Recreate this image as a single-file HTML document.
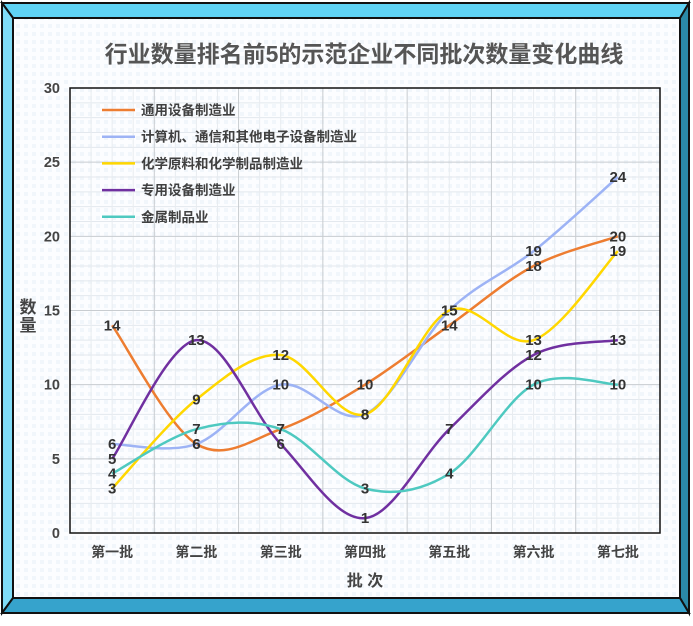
<!DOCTYPE html>
<html><head><meta charset="utf-8"><style>
html,body{margin:0;padding:0;background:#fff;}
svg{display:block;font-family:"Liberation Sans","Noto Sans CJK SC",sans-serif;}
</style></head><body>
<svg id="c" width="693" height="626" viewBox="0 0 693 626" xmlns="http://www.w3.org/2000/svg">
<defs>
<pattern id="bg" width="8" height="8" patternUnits="userSpaceOnUse">
<rect width="8" height="8" fill="#fcfdff"/>
<rect width="4" height="4" fill="#f1f6fb"/>
</pattern>
</defs>
<polygon points="2,3 689,3 680,18 13,18" fill="#5fd3f5" stroke="#111" stroke-width="2"/>
<polygon points="2,3 13,18 13,598 2,613" fill="#7fdcf7" stroke="#111" stroke-width="2"/>
<polygon points="689,3 689,613 680,598 680,18" fill="#2b8aa8" stroke="#111" stroke-width="2"/>
<polygon points="2,613 689,613 680,598 13,598" fill="#36a3cc" stroke="#111" stroke-width="2"/>
<rect x="13" y="18" width="667" height="580" fill="url(#bg)" stroke="#111" stroke-width="2"/>
<g id="grid"></g>
<rect x="70" y="88" width="590" height="445" fill="none" stroke="#111" stroke-width="1.5"/>
<text x="364" y="62" text-anchor="middle" font-size="23" font-weight="bold" fill="#555">行业数量排名前5的示范企业不同批次数量变化曲线</text>
<g id="ticks" font-size="14.5" font-weight="bold" fill="#444"></g>
<text x="365" y="586" text-anchor="middle" font-size="16" font-weight="bold" fill="#444">批 次</text>
<text x="28" y="313" text-anchor="middle" font-size="17" font-weight="bold" fill="#444">数</text>
<text x="28" y="331" text-anchor="middle" font-size="17" font-weight="bold" fill="#444">量</text>
<g id="series"></g>
<g id="legend" font-size="13.5" font-weight="bold" fill="#404040"></g>
<g id="labels" font-size="15" font-weight="bold" fill="#333"></g>
</svg>
<script>
const NS="http://www.w3.org/2000/svg";
function el(p,t,a,txt){const e=document.createElementNS(NS,t);for(const k in a)e.setAttribute(k,a[k]);if(txt!==undefined)e.textContent=txt;document.getElementById(p).appendChild(e);return e;}
const X0=70,X1=660,Y0=533,Y1=88,cw=(X1-X0)/7,py=(Y0-Y1)/30;
const xc=i=>X0+cw*(i+0.5), yv=v=>Y0-v*py;
for(let v=1;v<30;v++){ if(v%5) el("grid","line",{x1:X0,x2:X1,y1:yv(v),y2:yv(v),stroke:"#e3e8ee","stroke-width":1}); }
for(let i=0;i<7;i++){ for(let k=1;k<4;k++){const x=X0+cw*i+cw*k/4; el("grid","line",{x1:x,x2:x,y1:Y1,y2:Y0,stroke:"#e8ecf0","stroke-width":1});} }
for(let v=5;v<30;v+=5) el("grid","line",{x1:X0,x2:X1,y1:yv(v),y2:yv(v),stroke:"#c8ccd0","stroke-width":1});
for(let i=1;i<7;i++){const x=X0+cw*i; el("grid","line",{x1:x,x2:x,y1:Y1,y2:Y0,stroke:"#c8ccd0","stroke-width":1});}
for(let v=0;v<=30;v+=5) el("ticks","text",{x:60,y:yv(v)+5,"text-anchor":"end"},String(v));
const cats=["第一批","第二批","第三批","第四批","第五批","第六批","第七批"];
cats.forEach((c,i)=>el("ticks","text",{x:xc(i),y:557,"text-anchor":"middle","font-size":"14"},c));
const S=[
["通用设备制造业","#ed7d31",[14,6,7,10,14,18,20]],
["计算机、通信和其他电子设备制造业","#9db3f5",[6,6,10,8,15,19,24]],
["化学原料和化学制品制造业","#ffd700",[3,9,12,8,15,13,19]],
["专用设备制造业","#7030a0",[5,13,6,1,7,12,13]],
["金属制品业","#4ec9c0",[4,7,7,3,4,10,10]]];
S.forEach((s,j)=>{
 const p=s[2].map((v,i)=>[xc(i),yv(v)]);
 let d="M"+p[0][0]+","+p[0][1];
 for(let i=0;i<p.length-1;i++){
  const a=p[Math.max(i-1,0)],b=p[i],c=p[i+1],e=p[Math.min(i+2,p.length-1)];
  const t=1/6;
  d+=" C"+(b[0]+(c[0]-a[0])*t)+","+(b[1]+(c[1]-a[1])*t)+" "+(c[0]-(e[0]-b[0])*t)+","+(c[1]-(e[1]-b[1])*t)+" "+c[0]+","+c[1];
 }
 el("series","path",{d:d,fill:"none",stroke:s[1],"stroke-width":2.5});
 const ly=110+j*26.7;
 el("legend","line",{x1:102,x2:135,y1:ly,y2:ly,stroke:s[1],"stroke-width":2.5});
 el("legend","text",{x:141,y:ly+5},s[0]);
 p.forEach((q,i)=>el("labels","text",{x:q[0],y:q[1]+5,"text-anchor":"middle"},String(s[2][i])));
});
</script>
</body></html>
